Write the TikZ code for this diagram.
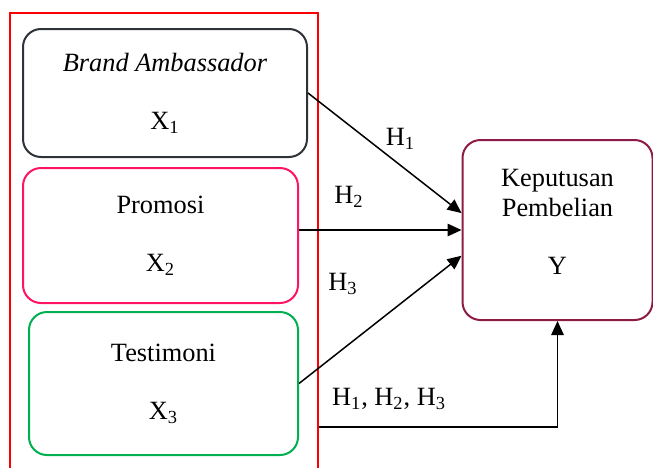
\documentclass[tikz,border=0pt]{standalone}
\usepackage{fontspec}
\setmainfont{Liberation Serif}
\usetikzlibrary{arrows.meta, positioning}

\definecolor{boxgray}{HTML}{2E333A}
\definecolor{boxpink}{HTML}{FF1464}
\definecolor{boxgreen}{HTML}{00B050}
\definecolor{boxmaroon}{HTML}{8E1B45}

\begin{document}
\begin{tikzpicture}[font={\fontsize{15}{17}\selectfont},
    varbox/.style={draw, rounded corners=0.36cm, line width=0.04cm, align=center, inner sep=0pt},
    arr/.style={-{Triangle[length=0.28cm, width=0.25cm]}, line width=0.03cm},
    hlabel/.style={inner sep=1pt}]

\useasboundingbox (0,0) rectangle (13.06,9.34);
\clip (0,0) rectangle (13.06,9.34);

% ── LEFT: independent variables ──────────────────────────────────
\node[draw=red, line width=0.04cm, minimum width=6.16cm, minimum height=9.4cm, inner sep=0pt]
    (frame) at (3.28,4.38) {};

\node[varbox, draw=boxgray, minimum width=5.68cm, minimum height=2.56cm] (ba) at (3.30,7.48)
    {\textit{Brand Ambassador}\\[16pt]X\textsubscript{1}};
\node[varbox, draw=boxpink, minimum width=5.5cm, minimum height=2.7cm] (pr) at (3.21,4.63)
    {Promosi\\[16pt]X\textsubscript{2}};
\node[varbox, draw=boxgreen, minimum width=5.38cm, minimum height=2.86cm] (te) at (3.27,1.67)
    {Testimoni\\[16pt]X\textsubscript{3}};

% ── RIGHT: dependent variable ────────────────────────────────────
\node[varbox, draw=boxmaroon, minimum width=3.8cm, minimum height=3.6cm, text depth=0.32cm]
    (y) at (11.15,4.74) {Keputusan\\Pembelian\\[16pt]Y};

% Hypothesis arrows
\draw[arr] (ba.east) -- (y.170);
\draw[arr] (y.west -| pr.east) -- (y.west);
\draw[arr] (te.east) -- (y.195);
\coordinate (hbase) at (0,0.80);
\draw[arr] (frame.east |- hbase) -| (y.south);

\node[hlabel] (h1) at (8.01,6.56) {H\textsubscript{1}};
\node[hlabel] (h2) at (6.98,5.40) {H\textsubscript{2}};
\node[hlabel] (h3) at (6.86,3.66) {H\textsubscript{3}};
\node[hlabel] (hall) at (7.78,1.36) {H\textsubscript{1}, H\textsubscript{2}, H\textsubscript{3}};

\end{tikzpicture}
\end{document}
